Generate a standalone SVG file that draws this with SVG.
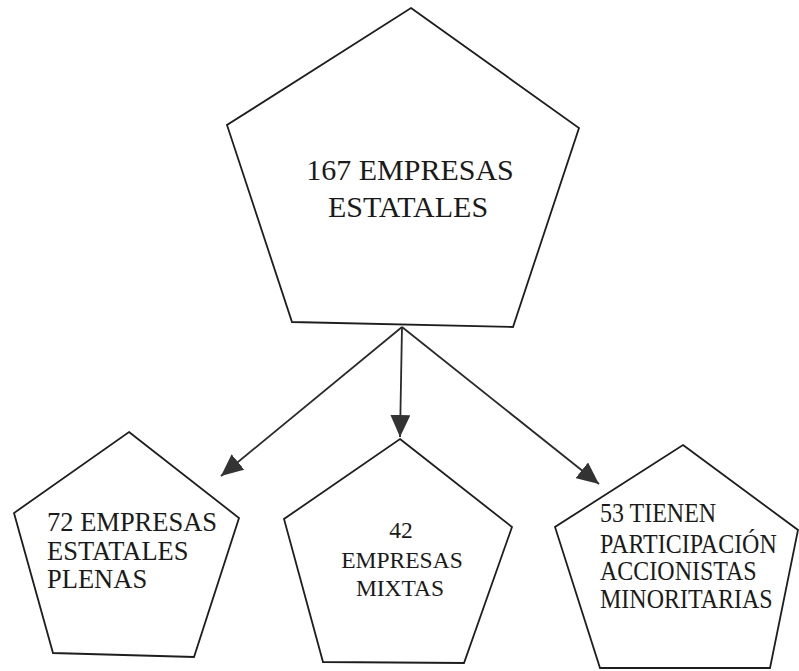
<svg xmlns="http://www.w3.org/2000/svg" width="799" height="671" viewBox="0 0 799 671">
<style>
.shape{fill:none;stroke:#1e1e1e;stroke-width:1.8;stroke-linejoin:miter}
.conn{fill:none;stroke:#2a2a2a;stroke-width:1.8}
.t0{font-size:30px;text-anchor:middle}
.t1{font-size:26.5px}
.t2{font-size:23.5px;text-anchor:middle}
.t3{font-size:24px}
</style>
<defs>
<marker id="ah" viewBox="0 0 22 20" refX="22" refY="10" markerWidth="22" markerHeight="20" markerUnits="userSpaceOnUse" orient="auto">
<path d="M0,0 L22,10 L0,20 z" fill="#333"/>
</marker>
</defs>
<rect width="799" height="671" fill="#fff"/>
<g id="connectors">
<line class="conn" x1="402" y1="327" x2="221" y2="476" marker-end="url(#ah)"/>
<line class="conn" x1="402" y1="327" x2="400" y2="437" marker-end="url(#ah)"/>
<line class="conn" x1="402" y1="327" x2="599" y2="484" marker-end="url(#ah)"/>
</g>
<g font-family="Liberation Serif, Times New Roman, DejaVu Serif, serif" fill="#1a1a1a">
<g id="node-top">
<polygon class="shape" points="411,8 579,128 513,327 292,322 227,125"/>
<text class="t0" x="410" y="180">167 EMPRESAS</text>
<text class="t0" x="408" y="217">ESTATALES</text>
</g>
<g id="node-left">
<polygon class="shape" points="129,432 239,518 194,657 53,653 14,513"/>
<text class="t1" x="47" y="531">72 EMPRESAS</text>
<text class="t1" x="47" y="560">ESTATALES</text>
<text class="t1" x="47" y="588">PLENAS</text>
</g>
<g id="node-middle">
<polygon class="shape" points="400,439 512,527 464,663 323,662 284,519"/>
<text class="t2" x="401" y="538">42</text>
<text class="t2" x="402" y="568">EMPRESAS</text>
<text class="t2" x="400" y="596">MIXTAS</text>
</g>
<g id="node-right">
<polygon class="shape" points="683,445 798,530 770,668 600,668 555,527"/>
<text class="t3" transform="translate(600,522) scale(1,1.1)">53 TIENEN</text>
<text class="t3" transform="translate(600,553) scale(1,1.1)">PARTICIPACIÓN</text>
<text class="t3" transform="translate(600,580) scale(1,1.1)">ACCIONISTAS</text>
<text class="t3" transform="translate(600,608) scale(1,1.1)">MINORITARIAS</text>
</g>
</g>
</svg>
